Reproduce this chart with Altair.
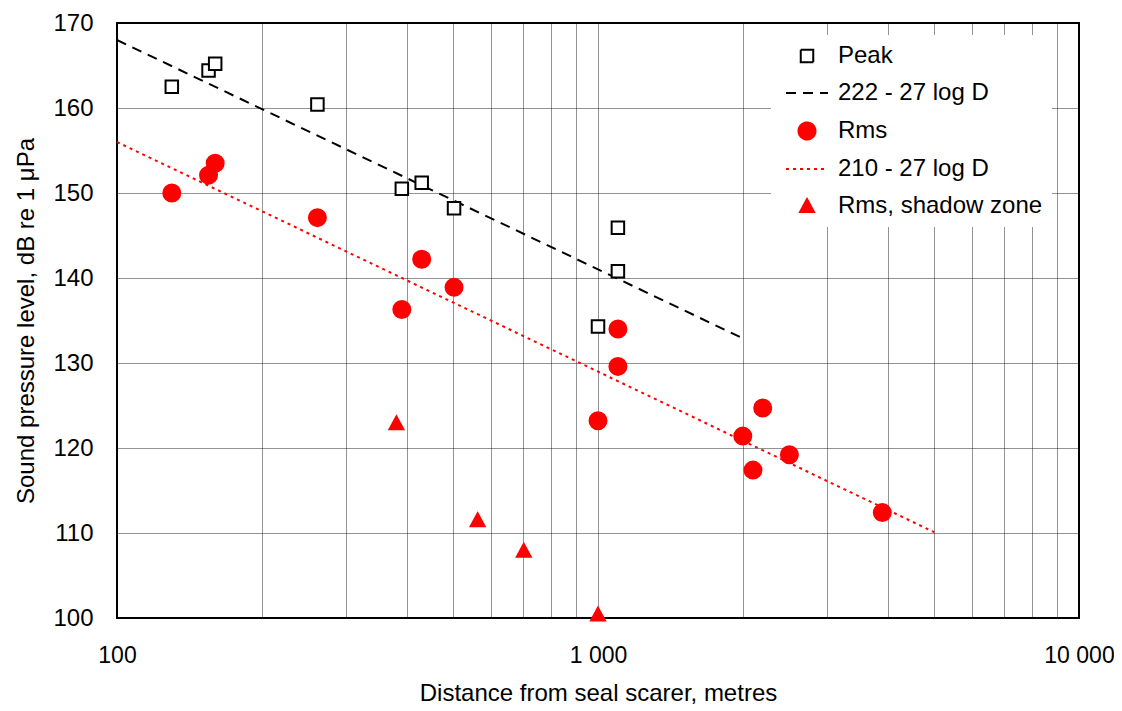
import altair as alt
import pandas as pd

# ---- data ----
peak_d = [130, 155, 160, 261, 391, 430, 502, 1000, 1100, 1100]
peak_db = [162.5, 164.4, 165.2, 160.4, 150.5, 151.2, 148.2, 134.3, 140.8, 145.9]

rms_d = [130, 155, 160, 261, 391, 430, 502, 1000, 1100, 1100, 2000, 2100, 2200, 2500, 3900]
rms_db = [150.0, 152.1, 153.5, 147.1, 136.3, 142.2, 138.9, 123.2, 129.6, 134.0,
          121.4, 117.4, 124.7, 119.2, 112.4]

shadow_d = [381, 562, 701, 1000]
shadow_db = [122.9, 111.5, 107.9, 100.4]

# fitted lines (end points): 222 - 27 log D and 210 - 27 log D
peak_fit_d = [100, 2000]
peak_fit_db = [168.0, 132.9]
rms_fit_d = [100, 5000]
rms_fit_db = [156.0, 110.1]

series = ["Peak", "222 - 27 log D", "Rms", "210 - 27 log D", "Rms, shadow zone"]

x_ticks = [100, 200, 300, 400, 500, 600, 700, 800, 900,
           1000, 2000, 3000, 4000, 5000, 6000, 7000, 8000, 9000, 10000]
y_ticks = [100, 110, 120, 130, 140, 150, 160, 170]

# ---- tables ----
points = pd.concat([
    pd.DataFrame({"d": peak_d, "db": peak_db, "series": series[0]}),
    pd.DataFrame({"d": rms_d, "db": rms_db, "series": series[2]}),
    pd.DataFrame({"d": shadow_d, "db": shadow_db, "series": series[4]}),
], ignore_index=True)

lines = pd.concat([
    pd.DataFrame({"d": peak_fit_d, "db": peak_fit_db, "series": series[1]}),
    pd.DataFrame({"d": rms_fit_d, "db": rms_fit_db, "series": series[3]}),
], ignore_index=True)

FONT = "Liberation Sans"

square_path = "M-1.25,-1.25H1.25V1.25H-1.25Z"
circle_path = "M-1.7,0A1.7,1.7,0,1,1,1.7,0A1.7,1.7,0,1,1,-1.7,0Z"
tri_path = "M0,-1.4L1.4,1.2L-1.4,1.2Z"
line_path = "M-4.2,0H4.2"

leg = alt.Legend(title=None)

stroke_enc = alt.Stroke("series:N", scale=alt.Scale(domain=series,
                        range=["black", "black", "red", "red", "red"]), legend=leg)

x_enc = alt.X("d:Q", scale=alt.Scale(type="log", domain=[100, 10000], nice=False),
              axis=alt.Axis(values=x_ticks,
                            labelExpr="datum.value == 100 ? '100' : datum.value == 1000 ? '1 000' : datum.value == 10000 ? '10 000' : ''",
                            title="Distance from seal scarer, metres",
                            labelFontSize=23,
                            labelFlush=False, labelOverlap=False,
                            labelPadding=26, titlePadding=14))
y_enc = alt.Y("db:Q", scale=alt.Scale(domain=[100, 170], nice=False, zero=False),
              axis=alt.Axis(values=y_ticks, title="Sound pressure level, dB re 1 μPa",
                            labelFlush=False,
                            labelPadding=24, titlePadding=14))

line_layer = alt.Chart(lines).mark_line().encode(
    x=x_enc, y=y_enc,
    stroke=stroke_enc,
    strokeDash=alt.StrokeDash("series:N", scale=alt.Scale(
        domain=series, range=[[1, 0], [10, 7], [1, 0], [3, 4], [1, 0]]), legend=leg),
    strokeWidth=alt.StrokeWidth("series:N", scale=alt.Scale(
        domain=series, range=[2, 2, 2, 3, 2]), legend=None),
)

point_layer = alt.Chart(points).mark_point(size=100, strokeWidth=2, opacity=1).encode(
    x=x_enc, y=y_enc,
    stroke=stroke_enc,
    fill=alt.Fill("series:N", scale=alt.Scale(domain=series,
                  range=["white", "transparent", "red", "transparent", "red"]), legend=leg),
    shape=alt.Shape("series:N", scale=alt.Scale(domain=series,
                    range=[square_path, line_path, circle_path, line_path, tri_path]), legend=leg),
)

chart = alt.layer(line_layer, point_layer).properties(
    width=962, height=595,
    autosize=alt.AutoSizeParams(type="none"),
    padding={"left": 109, "top": 15, "right": 35, "bottom": 86},
).configure(
    font=FONT,
).configure_view(
    stroke="black", strokeWidth=2,
).configure_axis(
    labelFont=FONT, labelFontSize=24, labelColor="black",
    titleFont=FONT, titleFontSize=24, titleColor="black", titleFontWeight="normal",
    ticks=False, domain=False,
    grid=True, gridColor="#000", gridOpacity=0.85, gridDash=[1, 1], gridWidth=1,
).configure_legend(
    orient="none", legendX=654, legendY=12,
    fillColor="white", padding=9,
    labelFont=FONT, labelFontSize=24, labelColor="black", labelLimit=0,
    symbolSize=100, symbolStrokeWidth=2,
    rowPadding=13, labelOffset=19, symbolOffset=15,
)

chart.save("out.html", embed_options={"renderer": "svg", "actions": False})
